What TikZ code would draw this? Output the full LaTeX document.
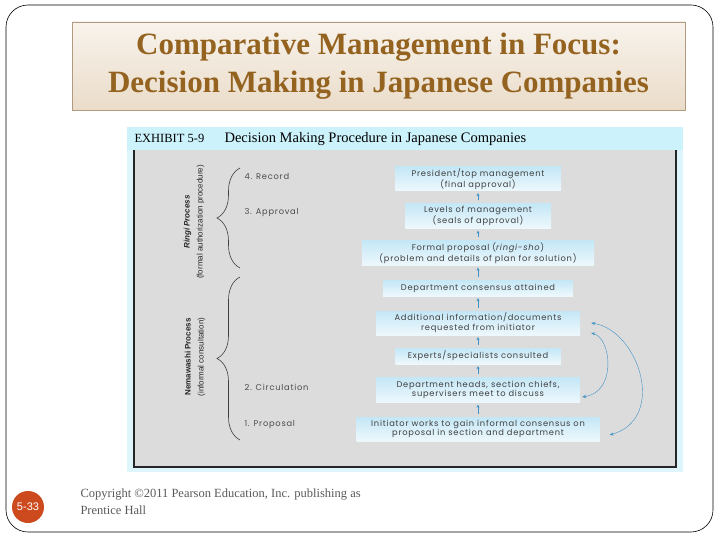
\documentclass[tikz,border=0pt]{standalone}
\usepackage{fontspec}
\setmainfont{Liberation Serif}
\newfontfamily\cardfont[LetterSpace=9]{Poppins}
\newfontfamily\sidefont{Liberation Sans}
\usetikzlibrary{arrows.meta,positioning,calc,decorations.pathreplacing}

\definecolor{titlebrown}{HTML}{946320}
\definecolor{titletop}{HTML}{F8F3EC}
\definecolor{titlebot}{HTML}{EADCC9}
\definecolor{titleline}{HTML}{B09B80}
\definecolor{exhcyan}{HTML}{DDF5FB}
\definecolor{exhhead}{HTML}{CCF2FB}
\definecolor{panelgray}{HTML}{DCDCDC}
\definecolor{cardtop}{HTML}{C4E7F6}
\definecolor{cardbot}{HTML}{EEF8FC}
\definecolor{arrblue}{HTML}{3E93C6}
\definecolor{pagered}{HTML}{CC4A1E}

\begin{document}
\begin{tikzpicture}[x=1pt, y=-1pt,
  card/.style={top color=cardtop, bottom color=cardbot, align=center,
    font=\cardfont\fontsize{8.3}{9.8}\selectfont, text=black!75, inner sep=1pt},
  uparr/.style={-{Stealth[length=3pt, width=3pt]}, arrblue, thick,
    shorten <=3pt, shorten >=2pt},
  cyc/.style={{Stealth[length=4pt, width=3pt]}-{Stealth[length=4pt, width=3pt]},
    arrblue, thin},
  stage/.style={anchor=west, font=\cardfont\fontsize{8.3}{9}\selectfont, text=black!70},
  proc/.style={rotate=90, align=center, font=\sidefont\fontsize{8}{13}\selectfont,
    text=black!85},
  curly/.style={decorate, decoration={brace, amplitude=23pt}, black!75, semithick},
]
  \useasboundingbox (0,0) rectangle (720,540);
  \fill[white] (0,0) rectangle (720,540);
  \draw[rounded corners=22pt, semithick] (6,5) rectangle (713,532);

  % Title banner
  \node[draw=titleline, top color=titletop, bottom color=titlebot,
    minimum width=613pt, minimum height=88pt, align=center, text=titlebrown,
    font=\bfseries\fontsize{31}{38}\selectfont] (title) at (378.5,66)
    {Comparative Management in Focus:\\Decision Making in Japanese Companies};

  % Exhibit frame and header
  \fill[exhcyan] (127,127) rectangle (683,472);
  \fill[exhhead] (127,127) rectangle (683,150);
  \fill[panelgray] (134,150) rectangle (676,467);
  \draw[line width=1.5pt, black!85] (134,150) -- (134,467) -- (676,467) -- (676,150);
  \node[anchor=base west, font=\fontsize{12.5}{15}\selectfont] (exh) at (131,143)
    {EXHIBIT 5-9};
  \node[anchor=base west, font=\fontsize{14.5}{16}\selectfont] (exhtitle) at (221,143)
    {Decision Making Procedure in Japanese Companies};

  % Stages and braces
  \foreach \n/\y/\t in {s4/176/{4. Record}, s3/213/{3. Approval},
      s2/387/{2. Circulation}, s1/425/{1. Proposal}}
    \node[stage] (\n) at (241,\y) {\t};
  \draw[curly] (240,268) -- (240,168);
  \draw[curly] (240,440) -- (240,277);
  \node[proc] (ringi) at (194,222)
    {{\bfseries\itshape Ringi Process}\\(formal authorization procedure)};
  \node[proc] (nema) at (195,357)
    {{\bfseries Nemawashi Process}\\(informal consultation)};

  % Steps, bottom to top
  \foreach \n/\y/\w/\h/\t in {
      b1/179/166/24/{President/top management\\(final approval)},
      b2/216/146/25/{Levels of management\\(seals of approval)},
      b3/253/232/25/{Formal proposal (\textit{ringi-sho})\\(problem and details of plan for solution)},
      b4/288/190/16/{Department consensus attained},
      b5/323/204/24/{Additional information/documents\\requested from initiator},
      b6/356/165/16/{Experts/specialists consulted},
      b7/390/204/25/{Department heads, section chiefs,\\supervisers meet to discuss},
      b8/429/243/24/{Initiator works to gain informal consensus on\\proposal in section and department}} {
    \node[card, minimum width=\w pt, minimum height=\h pt] (\n) at (478,\y) {\t};
  }
  \foreach \a/\b in {b8/b7, b7/b6, b6/b5, b5/b4, b4/b3, b3/b2, b2/b1}
    \draw[uparr] (\a.north) -- (\b.south);

  % Feedback loops
  \coordinate (o1) at ($(b5.east)+(11,0)$);
  \coordinate (i1) at ($(b5.east)+(11,10)$);
  \coordinate (i2) at ($(b7.east)+(2,7)$);
  \coordinate (o2) at ($(b8.east)+(10,6)$);
  \draw[cyc] (i1) .. controls +(20,5) and +(35,-5) .. (i2);
  \draw[cyc] (o1) .. controls +(47,7) and +(58,-17) .. (o2);

  % Footer
  \node[circle, fill=pagered, minimum size=32pt, inner sep=0pt, text=white,
    font=\sidefont\fontsize{11}{13}\selectfont] (page) at (28,507) {5-33};
  \node[anchor=north west, align=left, text=black!65,
    font=\fontsize{12.5}{17}\selectfont] (copy) at (77,485)
    {Copyright ©2011 Pearson Education, Inc. publishing as\\Prentice Hall};
\end{tikzpicture}
\end{document}
